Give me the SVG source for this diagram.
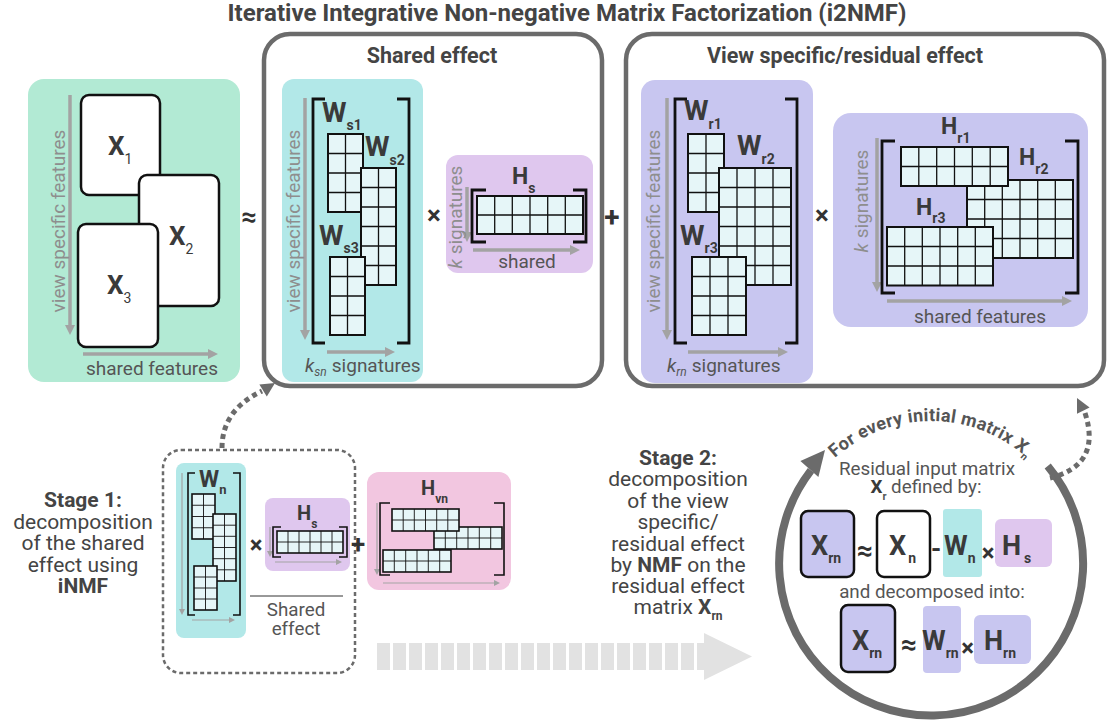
<svg xmlns="http://www.w3.org/2000/svg" width="1107" height="725" viewBox="0 0 1107 725">
<defs>
<marker id="ah" markerUnits="userSpaceOnUse" markerWidth="10" markerHeight="10" refX="4" refY="5" orient="auto"><path d="M0 0L10 5L0 10z" fill="#a3a3a3"/></marker>
<marker id="ahs" markerUnits="userSpaceOnUse" markerWidth="6" markerHeight="6" refX="1" refY="3" orient="auto"><path d="M0 0L6 3L0 6z" fill="#a3a3a3"/></marker>
<path id="arcText" d="M821.5 472.1A143 143 0 0 1 1040.5 472.1" fill="none"/>
</defs>
<style>
text{font-family:Roboto,'Liberation Sans',sans-serif}
.ttl{font-size:24px;font-weight:700;fill:#444;text-anchor:middle}
.frame{fill:none;stroke:#6b6b6b;stroke-width:4.5}
.ax{fill:none;stroke:#a3a3a3;stroke-width:3.5;marker-end:url(#ah)}
.axs{fill:none;stroke:#a3a3a3;stroke-width:1.2;marker-end:url(#ahs)}
.br{fill:none;stroke:#111;stroke-width:2.8}
.brs{fill:none;stroke:#111;stroke-width:1.6}
.gb rect{fill:#e6f6f8;stroke:#111;stroke-width:2}
.gb path{fill:none;stroke:#111;stroke-width:1.3}
.gs rect{fill:#e6f6f8;stroke:#111;stroke-width:1.6}
.gs path{fill:none;stroke:#111;stroke-width:0.9}
.axt{font-size:19px;fill:#8e8e8e;text-anchor:middle}
.axl{font-size:19px;fill:#555}
.lw{font-size:28px;font-weight:700;fill:#3a3a3a}
.lh{font-size:23px;font-weight:700;fill:#3a3a3a}
.lx{font-size:27px;font-weight:700;fill:#3a3a3a}
.sb{font-size:14px;font-weight:700}
.op{font-weight:700;fill:#333;text-anchor:middle}
.st{font-size:21px;fill:#444;text-anchor:middle}
.ct{font-size:18.8px;fill:#555;text-anchor:middle}
.xb{fill:#fff;stroke:#111;stroke-width:2.5}
.dot{fill:none;stroke:#6b6b6b;stroke-width:5;stroke-dasharray:5 4}
.green{fill:#b2ead4}.cyan{fill:#b2e8e8}.lilac{fill:#dfc7ee}.peri{fill:#c8c6f0}.pink{fill:#f2c6e0}
</style>
<rect width="1107" height="725" fill="#fff"/>

<text id="title" class="ttl" x="567" y="21">Iterative Integrative Non-negative Matrix Factorization (i2NMF)</text>

<g id="input-X">
<rect class="green" x="28" y="79" width="212" height="303" rx="16"/>
<path class="ax" d="M70 95V329"/>
<path class="ax" d="M83 354H212"/>
<text class="axt" transform="translate(65 221) rotate(-90)">view specific features</text>
<text class="axl" x="152" y="375" text-anchor="middle">shared features</text>
<rect class="xb" x="81" y="95" width="79" height="100" rx="8"/>
<rect class="xb" x="139" y="175" width="80" height="131" rx="8"/>
<rect class="xb" x="78" y="224" width="80" height="123" rx="8"/>
<text x="108" y="155" font-size="26" font-weight="700" fill="#3a3a3a">X<tspan font-size="14" font-weight="400" dy="9">1</tspan></text>
<text x="169" y="245" font-size="26" font-weight="700" fill="#3a3a3a">X<tspan font-size="14" font-weight="400" dy="9">2</tspan></text>
<text x="107" y="294" font-size="26" font-weight="700" fill="#3a3a3a">X<tspan font-size="14" font-weight="400" dy="9">3</tspan></text>
</g>

<text class="op" x="249" y="226" font-size="27">≈</text>

<g id="shared-effect">
<rect class="frame" x="264" y="34" width="338" height="352" rx="26"/>
<text x="432" y="63" font-size="21.5" font-weight="700" fill="#444" text-anchor="middle">Shared effect</text>
</g>

<g id="W-shared">
<rect class="cyan" x="282" y="79" width="141" height="303" rx="12"/>
<path class="ax" d="M305 98V334"/>
<path class="ax" d="M327 352H389"/>
<text class="axt" transform="translate(300 221) rotate(-90)">view specific features</text>
<text class="axl" x="305" y="372"><tspan font-style="italic">k</tspan><tspan font-style="italic" font-size="12" dy="4">sn</tspan><tspan dy="-4" dx="5">signatures</tspan></text>
<path class="br" d="M325 99H313V343H325M397 99H409V343H397"/>
<g class="gb"><rect x="328" y="134" width="35" height="78"/><path d="M345.5 134v78M328 153.5h35M328 173h35M328 192.5h35"/></g>
<g class="gb"><rect x="361" y="168" width="35" height="117"/><path d="M378.5 168v117M361 187.5h35M361 207h35M361 226.5h35M361 246h35M361 265.5h35"/></g>
<g class="gb"><rect x="330" y="257" width="35" height="78"/><path d="M347.5 257v78M330 276.5h35M330 296h35M330 315.5h35"/></g>
<text class="lw" x="322" y="122">W<tspan class="sb" dy="8">s1</tspan></text>
<text class="lw" x="365" y="156">W<tspan class="sb" dy="9">s2</tspan></text>
<text class="lw" x="319" y="245">W<tspan class="sb" dy="8">s3</tspan></text>
</g>

<text class="op" x="434" y="224" font-size="26">×</text>

<g id="H-shared">
<rect class="lilac" x="446" y="155" width="147" height="118" rx="12"/>
<path class="ax" d="M467 187V236"/>
<path class="ax" d="M473 250H574"/>
<text class="axt" transform="translate(462 217) rotate(-90)"><tspan font-style="italic">k</tspan> signatures</text>
<text class="axl" x="527" y="268" text-anchor="middle">shared</text>
<path class="br" d="M486 190H472V242H486M573 190H586V242H573"/>
<g class="gb"><rect x="477" y="196" width="106" height="38"/><path d="M494.7 196v38M512.3 196v38M530 196v38M547.7 196v38M565.3 196v38M477 215h106"/></g>
<text class="lh" x="512" y="184">H<tspan class="sb" dy="9">s</tspan></text>
</g>

<text class="op" x="612" y="227" font-size="28">+</text>

<g id="view-effect">
<rect class="frame" x="626" y="34" width="478" height="352" rx="26"/>
<text x="845" y="63" font-size="21.5" font-weight="700" fill="#444" text-anchor="middle">View specific/residual effect</text>
</g>

<g id="W-residual">
<rect class="peri" x="641" y="80" width="172" height="303" rx="14"/>
<path class="ax" d="M667 98V334"/>
<path class="ax" d="M688 352H782"/>
<text class="axt" transform="translate(660 221) rotate(-90)">view specific features</text>
<text class="axl" x="667" y="372"><tspan font-style="italic">k</tspan><tspan font-style="italic" font-size="12" dy="4">rn</tspan><tspan dy="-4" dx="5">signatures</tspan></text>
<path class="br" d="M687 99H675V343H687M785 99H797V343H785"/>
<g class="gb"><rect x="688" y="134" width="36" height="78"/><path d="M706 134v78M688 153.5h36M688 173h36M688 192.5h36"/></g>
<g class="gb"><rect x="719" y="168" width="72" height="117"/><path d="M737 168v117M755 168v117M773 168v117M719 187.5h72M719 207h72M719 226.5h72M719 246h72M719 265.5h72"/></g>
<g class="gb"><rect x="692" y="257" width="54" height="78"/><path d="M710 257v78M728 257v78M692 276.5h54M692 296h54M692 315.5h54"/></g>
<text class="lw" x="684" y="120">W<tspan class="sb" dy="9">r1</tspan></text>
<text class="lw" x="737" y="155">W<tspan class="sb" dy="9">r2</tspan></text>
<text class="lw" x="680" y="245">W<tspan class="sb" dy="8">r3</tspan></text>
</g>

<text class="op" x="822" y="224" font-size="26">×</text>

<g id="H-residual">
<rect class="peri" x="833" y="113" width="255" height="214" rx="18"/>
<path class="ax" d="M877 138V286"/>
<path class="ax" d="M887 301H1066"/>
<text class="axt" transform="translate(868 201) rotate(-90)"><tspan font-style="italic">k</tspan> signatures</text>
<text class="axl" x="980" y="323" text-anchor="middle">shared features</text>
<path class="br" d="M895 141H882V293H895M1065 141H1078V293H1065"/>
<g class="gb"><rect x="967" y="180" width="106" height="78"/><path d="M984.7 180v78M1002.3 180v78M1020 180v78M1037.7 180v78M1055.3 180v78M967 199.5h106M967 219h106M967 238.5h106"/></g>
<g class="gb"><rect x="901" y="147" width="107" height="39"/><path d="M918.8 147v39M936.7 147v39M954.5 147v39M972.3 147v39M990.2 147v39M901 166.5h107"/></g>
<g class="gb"><rect x="887" y="227" width="106" height="58.5"/><path d="M904.7 227v58.5M922.3 227v58.5M940 227v58.5M957.7 227v58.5M975.3 227v58.5M887 246.5h106M887 266h106"/></g>
<text class="lh" x="941" y="134">H<tspan class="sb" dy="9">r1</tspan></text>
<text class="lh" x="1019" y="165">H<tspan class="sb" dy="9">r2</tspan></text>
<text class="lh" x="916" y="215">H<tspan class="sb" dy="8">r3</tspan></text>
</g>

<g id="stage1-text">
<text class="st" x="83" y="507" font-weight="700">Stage 1:</text>
<text class="st" x="83" y="528.5">decomposition</text>
<text class="st" x="83" y="550">of the shared</text>
<text class="st" x="83" y="571.5">effect using</text>
<text class="st" x="83" y="593" font-weight="700">iNMF</text>
</g>

<g id="stage1">
<rect x="163" y="450" width="192" height="223" rx="18" fill="none" stroke="#6b6b6b" stroke-width="2.5" stroke-dasharray="4 3"/>
<line x1="250" y1="596" x2="343" y2="596" stroke="#333" stroke-width="1"/>
<text class="ct" x="296" y="616">Shared</text>
<text class="ct" x="296" y="634.5">effect</text>
</g>

<g id="Wn">
<rect class="cyan" x="176" y="463" width="70" height="175" rx="8"/>
<path class="axs" d="M182 473V610"/>
<path class="axs" d="M192 620H230"/>
<path class="brs" d="M195 473H188V615H195M233 473H240V615H233"/>
<g class="gs"><rect x="192" y="494" width="23" height="45"/><path d="M203.5 494v45M192 505.25h23M192 516.5h23M192 527.75h23"/></g>
<g class="gs"><rect x="213" y="514" width="23" height="67"/><path d="M224.5 514v67M213 525.2h23M213 536.3h23M213 547.5h23M213 558.7h23M213 569.8h23"/></g>
<g class="gs"><rect x="194" y="566" width="23" height="44"/><path d="M205.5 566v44M194 577h23M194 588h23M194 599h23"/></g>
<text x="199" y="487" font-size="23" font-weight="700" fill="#3a3a3a">W<tspan font-size="13" dy="7">n</tspan></text>
</g>

<text class="op" x="256" y="553" font-size="24">×</text>

<g id="Hs-small">
<rect class="lilac" x="265" y="498" width="85" height="73" rx="8"/>
<path class="axs" d="M270 527V552"/>
<path class="axs" d="M275 562H337"/>
<path class="brs" d="M281 527H273V557H281M339 527H347V557H339"/>
<g class="gs"><rect x="277" y="531" width="66" height="22"/><path d="M288 531v22M299 531v22M310 531v22M321 531v22M332 531v22M277 542h66"/></g>
<text x="297" y="520" font-size="20" font-weight="700" fill="#3a3a3a">H<tspan font-size="12" dy="8">s</tspan></text>
</g>

<text class="op" x="358" y="553" font-size="26">+</text>

<g id="Hvn">
<rect class="pink" x="367" y="472" width="144" height="118" rx="12"/>
<path class="axs" d="M377 503V570"/>
<path class="axs" d="M383 583H495"/>
<path class="brs" d="M390 503H380V575H390M494 503H504V575H494"/>
<g class="gs"><rect x="434" y="527" width="68" height="22"/><path d="M445.3 527v22M456.7 527v22M468 527v22M479.3 527v22M490.7 527v22M434 538h68"/></g>
<g class="gs"><rect x="392" y="509" width="67" height="22"/><path d="M403.2 509v22M414.3 509v22M425.5 509v22M436.7 509v22M447.8 509v22M392 520h67"/></g>
<g class="gs"><rect x="383" y="550" width="68" height="22"/><path d="M394.3 550v22M405.7 550v22M417 550v22M428.3 550v22M439.7 550v22M383 561h68"/></g>
<text x="421" y="495" font-size="20" font-weight="700" fill="#3a3a3a">H<tspan font-size="12" dy="8">vn</tspan></text>
</g>

<g id="big-arrow">
<line x1="377" y1="656.5" x2="712" y2="656.5" stroke="#e2e2e2" stroke-width="27" stroke-dasharray="13 3"/>
<path d="M704 633L752 656.5L704 680z" fill="#e2e2e2"/>
</g>

<g id="stage2-text">
<text class="st" x="678" y="465" font-weight="700">Stage 2:</text>
<text class="st" x="678" y="486.4">decomposition</text>
<text class="st" x="678" y="507.8">of the view</text>
<text class="st" x="678" y="529.2">specific/</text>
<text class="st" x="678" y="550.6">residual effect</text>
<text class="st" x="678" y="572">by <tspan font-weight="700">NMF</tspan> on the</text>
<text class="st" x="678" y="593.4">residual effect</text>
<text class="st" x="678" y="614">matrix <tspan font-weight="700">X</tspan><tspan font-size="12" font-weight="700" dy="6">rn</tspan></text>
</g>

<g id="loop">
<path d="M1047.7 466A152 152 0 1 1 811 470.4" fill="none" stroke="#6b6b6b" stroke-width="8"/>
<path d="M825 450L818.4 477L800.4 461z" fill="#6b6b6b"/>
<text font-size="18" font-weight="700" fill="#555" letter-spacing="0.3"><textPath href="#arcText" startOffset="50%" text-anchor="middle">For every initial matrix X<tspan font-size="10" dy="4">n</tspan></textPath></text>
<text class="ct" x="927" y="475">Residual input matrix</text>
<text class="ct" x="926" y="493"><tspan font-weight="700" fill="#3a3a3a">X</tspan><tspan font-size="11" font-weight="700" dy="7">r</tspan><tspan dy="-7"> defined by:</tspan></text>
</g>

<g id="eq-residual">
<rect class="peri" x="801" y="511" width="53" height="66" rx="7" stroke="#111" stroke-width="2.5"/>
<text class="lx" x="811" y="555">X<tspan class="sb" dy="8">rn</tspan></text>
<text class="op" x="865" y="560" font-size="28">≈</text>
<rect class="xb" x="877" y="511" width="53" height="66" rx="7"/>
<text class="lx" x="889" y="555">X<tspan class="sb" dx="2" dy="8">n</tspan></text>
<text class="op" x="936" y="558" font-size="26">-</text>
<rect class="cyan" x="943" y="509" width="39" height="68" rx="3"/>
<text class="lx" x="944" y="555">W<tspan class="sb" dy="8">n</tspan></text>
<text class="op" x="988" y="561" font-size="24">×</text>
<rect class="lilac" x="995" y="519" width="57" height="48" rx="6"/>
<text class="lx" x="1002" y="555">H<tspan class="sb" dx="3" dy="8">s</tspan></text>
</g>

<g id="eq-decomp">
<text class="ct" x="932" y="598">and decomposed into:</text>
<rect class="peri" x="841" y="605" width="54" height="67" rx="7" stroke="#111" stroke-width="2.5"/>
<text class="lx" x="852" y="650">X<tspan class="sb" dy="8">rn</tspan></text>
<text class="op" x="909" y="654" font-size="28">≈</text>
<rect class="peri" x="923" y="606" width="38" height="67" rx="4"/>
<text class="lx" x="922" y="650">W<tspan class="sb" dy="8">rn</tspan></text>
<text class="op" x="967.5" y="656" font-size="24">×</text>
<rect class="peri" x="974" y="615" width="57" height="49" rx="6"/>
<text class="lx" x="984" y="650">H<tspan class="sb" dy="8">rn</tspan></text>
</g>

<g id="connectors">
<path class="dot" d="M222 448Q222 410 262 391"/>
<path d="M275 383L266.8 396.4L259.4 384.5z" fill="#6b6b6b"/>
<path class="dot" d="M1050 478Q1102 465 1085 413"/>
<path d="M1077 398L1089.6 407.4L1077 413.8z" fill="#6b6b6b"/>
</g>
</svg>
